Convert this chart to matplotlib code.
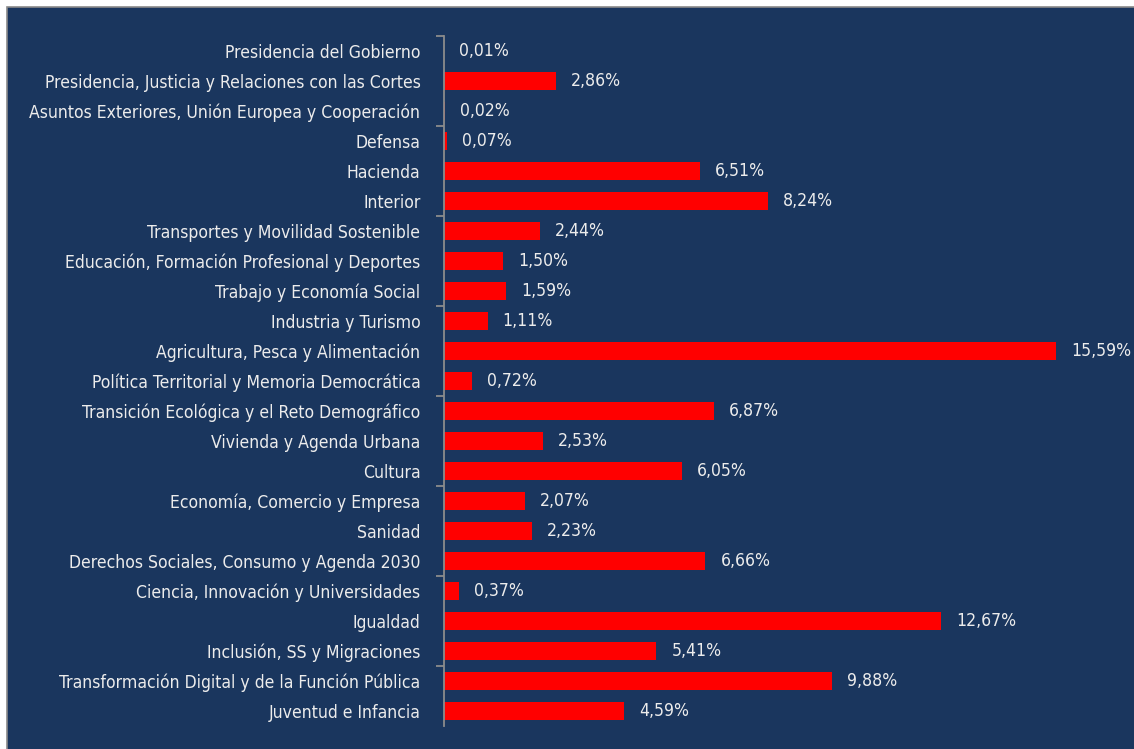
import matplotlib.pyplot as plt
from matplotlib.patches import Rectangle
from matplotlib import font_manager

# datos del grafico: peso de cada ministerio (%)
ministerios = [
    "Presidencia del Gobierno",
    "Presidencia, Justicia y Relaciones con las Cortes",
    "Asuntos Exteriores, Unión Europea y Cooperación",
    "Defensa",
    "Hacienda",
    "Interior",
    "Transportes y Movilidad Sostenible",
    "Educación, Formación Profesional y Deportes",
    "Trabajo y Economía Social",
    "Industria y Turismo",
    "Agricultura, Pesca y Alimentación",
    "Política Territorial y Memoria Democrática",
    "Transición Ecológica y el Reto Demográfico",
    "Vivienda y Agenda Urbana",
    "Cultura",
    "Economía, Comercio y Empresa",
    "Sanidad",
    "Derechos Sociales, Consumo y Agenda 2030",
    "Ciencia, Innovación y Universidades",
    "Igualdad",
    "Inclusión, SS y Migraciones",
    "Transformación Digital y de la Función Pública",
    "Juventud e Infancia",
]
porcentajes = [0.01, 2.86, 0.02, 0.07, 6.51, 8.24, 2.44, 1.50, 1.59, 1.11,
               15.59, 0.72, 6.87, 2.53, 6.05, 2.07, 2.23, 6.66, 0.37, 12.67,
               5.41, 9.88, 4.59]

fondo = '#1a365e'
rojo = '#ff0000'
texto = '#ececec'

# buscar una fuente estrecha si hay alguna
fuente = 'Liberation Sans'
estrecha = 'normal'
for f in font_manager.fontManager.ttflist:
    if 'Narrow' in f.name or 'Condensed' in f.name:
        fuente = f.name
        break
    if f.stretch in ('condensed', 'semi-condensed') and f.weight in (400, 'normal', 'regular'):
        fuente = f.name
        estrecha = f.stretch
        break
plt.rcParams['font.family'] = [fuente, 'DejaVu Sans']
plt.rcParams['font.stretch'] = estrecha

W, H = 1134, 749
fig = plt.figure(figsize=(W / 100, H / 100), dpi=100)
fig.patch.set_facecolor('white')
fondo_rect = Rectangle((7 / W, -0.01), 1.0, (H - 7) / H + 0.01,
                       transform=fig.transFigure, facecolor=fondo,
                       edgecolor='#8a8a8a', linewidth=1.2, zorder=-10)
fig.patches.append(fondo_rect)

# ajustar tamano de letra para que la etiqueta mas larga mida lo que en el original
r = fig.canvas.get_renderer()
t = fig.text(0, 0, max(ministerios, key=len), fontsize=13)
ancho = t.get_window_extent(renderer=r).width
t.remove()
fs = 13 * 376 / ancho
fs = min(fs, 13.5)

px_unidad = 39.26
x0, x1 = 444, 1125
y_top, y_bot = 36, 726
ax = fig.add_axes([x0 / W, (H - y_bot) / H, (x1 - x0) / W, (y_bot - y_top) / H])
ax.set_facecolor('none')
ax.set_zorder(5)

pos = list(range(len(ministerios)))
ax.barh(pos, porcentajes, height=0.57, color=rojo, zorder=2)
ax.set_xlim(0, (x1 - x0) / px_unidad)
ax.set_ylim(len(ministerios) - 0.5, -0.5)

for p, v in zip(pos, porcentajes):
    ax.text(v + 15 / px_unidad, p, f"{v:.2f}".replace('.', ',') + '%',
            va='center', ha='left', color=texto, fontsize=fs)

# ticks del eje cada tres categorias, etiquetas como ticks menores
ax.set_yticks([i - 0.5 for i in range(0, len(ministerios), 3)])
ax.set_yticklabels([])
ax.tick_params(axis='y', which='major', length=6, width=1.3, color='#8c8c8c',
               direction='out')
ax.set_yticks(pos, minor=True)
ax.set_yticklabels(ministerios, minor=True)
ax.tick_params(axis='y', which='minor', length=0, pad=17, labelsize=fs,
               labelcolor=texto)
ax.set_xticks([])

for s in ['top', 'right', 'bottom']:
    ax.spines[s].set_visible(False)
ax.spines['left'].set_color('#8c8c8c')
ax.spines['left'].set_linewidth(1.3)

fig.savefig('out.png', dpi=100, facecolor=fig.get_facecolor())
